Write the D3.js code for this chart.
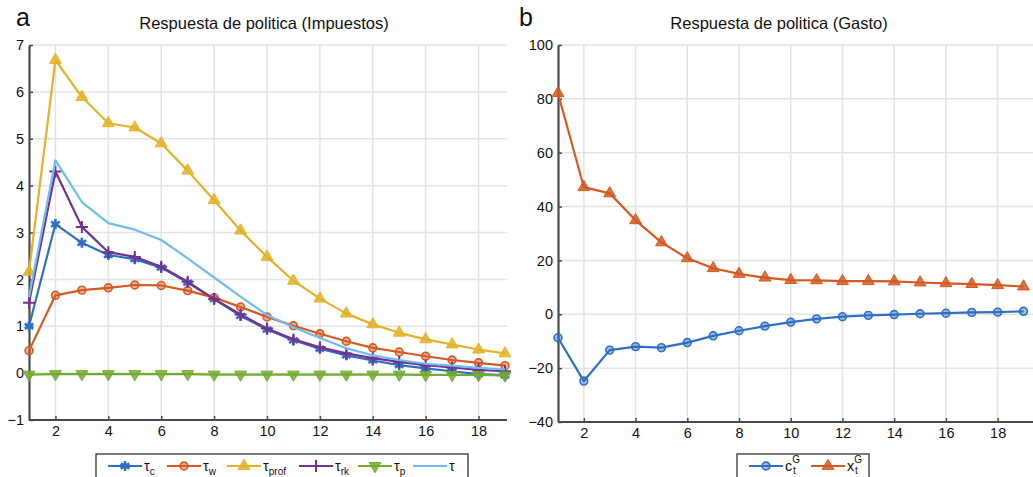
<!DOCTYPE html>
<html>
<head>
<meta charset="utf-8">
<script src="https://cdn.jsdelivr.net/npm/d3@7"></script>
<style>
  html, body { margin: 0; padding: 0; background: #fff; }
  svg { display: block; font-family: "Liberation Sans", Arial, sans-serif; }
</style>
</head>
<body>
<svg id="chart" width="1033" height="477"></svg>
<script>
// Horizon (periods)
const periods = d3.range(1, 20);

// Panel a: tax instruments
const tauC    = [1.00, 3.18, 2.78, 2.52, 2.43, 2.25, 1.93, 1.58, 1.22, 0.93, 0.70, 0.52, 0.38, 0.27, 0.17, 0.10, 0.04, -0.02, -0.05];
const tauW    = [0.48, 1.66, 1.77, 1.82, 1.88, 1.87, 1.76, 1.61, 1.41, 1.20, 1.01, 0.84, 0.68, 0.54, 0.45, 0.36, 0.28, 0.22, 0.16];
const tauProf = [2.16, 6.68, 5.89, 5.33, 5.24, 4.90, 4.32, 3.69, 3.04, 2.48, 1.97, 1.59, 1.27, 1.04, 0.86, 0.72, 0.61, 0.50, 0.42];
const tauRk   = [1.50, 4.30, 3.12, 2.58, 2.48, 2.27, 1.95, 1.58, 1.25, 0.95, 0.72, 0.55, 0.42, 0.32, 0.24, 0.17, 0.12, 0.07, 0.04];
const tauP    = [-0.03, -0.02, -0.02, -0.02, -0.02, -0.02, -0.02, -0.03, -0.03, -0.03, -0.03, -0.03, -0.03, -0.03, -0.03, -0.04, -0.04, -0.04, -0.05];
const tauAll  = [1.62, 4.54, 3.65, 3.20, 3.06, 2.84, 2.45, 2.04, 1.63, 1.24, 0.98, 0.75, 0.53, 0.38, 0.28, 0.20, 0.16, 0.11, 0.08];

// Panel b: spending instruments
const cG = [-8.7, -24.8, -13.3, -12.0, -12.4, -10.5, -8.0, -6.1, -4.4, -2.9, -1.7, -0.9, -0.4, -0.1, 0.2, 0.4, 0.7, 0.8, 1.1];
const xG = [82.1, 47.2, 44.9, 34.9, 26.7, 20.8, 17.1, 15.0, 13.6, 12.7, 12.6, 12.3, 12.3, 12.2, 11.8, 11.5, 11.2, 10.8, 10.3];

// Tick labels
const xTicks = [2, 4, 6, 8, 10, 12, 14, 16, 18];
const yTicksA = [-1, 0, 1, 2, 3, 4, 5, 6, 7];
const yTicksB = [-40, -20, 0, 20, 40, 60, 80, 100];

const titles = ["Respuesta de politica (Impuestos)", "Respuesta de politica (Gasto)"];

const C = {
  blue: "#2f6fc4", orange: "#d45a22", yellow: "#e3b228",
  purple: "#74318e", green: "#74ab2f", sky: "#6fbdf0"
};

const svg = d3.select("#chart");

// Downward-pointing triangle symbol
const triDown = {
  draw(ctx, size) {
    const h = Math.sqrt(size / (Math.sqrt(3) / 4));
    const y = h * Math.sqrt(3) / 2;
    ctx.moveTo(-h / 2, -y / 3);
    ctx.lineTo(h / 2, -y / 3);
    ctx.lineTo(0, 2 * y / 3);
    ctx.closePath();
  }
};

function markerPath(kind) {
  switch (kind) {
    case "asterisk": return d3.symbol(d3.symbolAsterisk, 70)();
    case "circle": return d3.symbol(d3.symbolCircle, 48)();
    case "triUp": return d3.symbol(d3.symbolTriangle, 60)();
    case "triDown": return d3.symbol(triDown, 60)();
    case "plus": return "M-6,0H6M0,-6V6";
    default: return null;
  }
}

function drawMarker(g, kind, color, x, y) {
  if (!kind) return;
  const p = g.append("path").attr("d", markerPath(kind)).attr("transform", `translate(${x},${y})`);
  if (kind === "asterisk" || kind === "plus") {
    p.attr("fill", "none").attr("stroke", color).attr("stroke-width", kind === "plus" ? 2 : 2.6);
  } else if (kind === "circle") {
    p.attr("fill", color).attr("fill-opacity", 0.45).attr("stroke", color).attr("stroke-width", 1.6);
  } else {
    p.attr("fill", color).attr("fill-opacity", 0.85).attr("stroke", color).attr("stroke-width", 1);
  }
}

function panel(opts) {
  const { x0, x1, xEnd, y0, y1, yDomain, yTicks, series, title, letter, letterX, titleX } = opts;
  const x = d3.scaleLinear().domain([1, 19]).range([x0, x1]);
  const y = d3.scaleLinear().domain(yDomain).range([y1, y0]);
  const g = svg.append("g");

  // grid
  g.append("g").selectAll("line").data(xTicks).join("line")
    .attr("x1", d => x(d)).attr("x2", d => x(d)).attr("y1", y0).attr("y2", y1)
    .attr("stroke", "#e3e3e3").attr("stroke-width", 1.5);
  g.append("g").selectAll("line").data(yTicks).join("line")
    .attr("x1", x0).attr("x2", xEnd).attr("y1", d => y(d)).attr("y2", d => y(d))
    .attr("stroke", "#e3e3e3").attr("stroke-width", 1.5);

  // axes with inward ticks
  const xAxis = d3.axisBottom(x).tickValues(xTicks).tickSize(-4).tickPadding(6).tickSizeOuter(0);
  const gx = g.append("g").attr("transform", `translate(0,${y1})`).call(xAxis);
  gx.select(".domain").attr("d", `M${x0},0H${xEnd}`);
  const yAxis = d3.axisLeft(y).tickValues(yTicks).tickSize(-4).tickPadding(5).tickSizeOuter(0)
    .tickFormat(d => d < 0 ? "\u2212" + Math.abs(d) : d);
  const gy = g.append("g").attr("transform", `translate(${x0},0)`).call(yAxis);
  [gx, gy].forEach(a => {
    a.select(".domain").attr("stroke", "#4a4a4a").attr("stroke-width", 2.2);
    a.selectAll(".tick line").attr("stroke", "#4a4a4a").attr("stroke-width", 1.5);
    a.selectAll(".tick text").attr("fill", "#111").attr("font-size", 14.5)
      .attr("font-family", "'Liberation Sans', Arial, sans-serif");
  });

  // series
  series.forEach(s => {
    const pts = periods.map((p, i) => [x(p), y(s.values[i])]);
    g.append("path").attr("d", d3.line()(pts)).attr("fill", "none")
      .attr("stroke", s.color).attr("stroke-width", 2.2).attr("stroke-linejoin", "round");
    pts.forEach(([px, py]) => drawMarker(g, s.marker, s.color, px, py));
  });

  svg.append("text").attr("x", titleX).attr("y", 29).attr("text-anchor", "middle")
    .attr("font-size", 16.5).attr("fill", "#111").text(title);
  svg.append("text").attr("x", letterX).attr("y", 26).attr("font-size", 25).attr("fill", "#111").text(letter);
}

panel({
  x0: 29, x1: 505, xEnd: 507, y0: 45, y1: 420, yDomain: [-1, 7], yTicks: yTicksA,
  title: titles[0], titleX: 264, letter: "a", letterX: 16,
  series: [
    { values: tauC, color: C.blue, marker: "asterisk" },
    { values: tauW, color: C.orange, marker: "circle" },
    { values: tauProf, color: C.yellow, marker: "triUp" },
    { values: tauRk, color: C.purple, marker: "plus" },
    { values: tauP, color: C.green, marker: "triDown" },
    { values: tauAll, color: C.sky, marker: null }
  ]
});

panel({
  x0: 558, x1: 1023.5, xEnd: 1040, y0: 45, y1: 422, yDomain: [-40, 100], yTicks: yTicksB,
  title: titles[1], titleX: 779, letter: "b", letterX: 519,
  series: [
    { values: cG, color: C.blue, marker: "circle" },
    { values: xG, color: C.orange, marker: "triUp" }
  ]
});

// Legends
function legend(x, w, items) {
  const g = svg.append("g");
  g.append("rect").attr("x", x).attr("y", 454).attr("width", w).attr("height", 40)
    .attr("fill", "#fff").attr("stroke", "#333").attr("stroke-width", 1.3);
  let cx = x + 12;
  items.forEach(it => {
    g.append("line").attr("x1", cx).attr("x2", cx + 34).attr("y1", 466).attr("y2", 466)
      .attr("stroke", it.color).attr("stroke-width", 2.2);
    drawMarker(g, it.marker, it.color, cx + 17, 466);
    const t = g.append("text").attr("x", cx + 36).attr("y", 471).attr("font-size", 14.5).attr("fill", "#111");
    t.append("tspan").text(it.base);
    if (it.sup) {
      t.append("tspan").attr("font-size", 10).attr("dy", -8).text(it.sup);
      t.append("tspan").attr("font-size", 10).attr("dx", -7).attr("dy", 11).text(it.sub);
    } else if (it.sub) {
      t.append("tspan").attr("font-size", 10).attr("dy", 4).text(it.sub);
    }
    cx += it.step;
  });
}

legend(96, 372, [
  { base: "\u03c4", sub: "c", color: C.blue, marker: "asterisk", step: 59 },
  { base: "\u03c4", sub: "w", color: C.orange, marker: "circle", step: 60 },
  { base: "\u03c4", sub: "prof", color: C.yellow, marker: "triUp", step: 72 },
  { base: "\u03c4", sub: "rk", color: C.purple, marker: "plus", step: 59 },
  { base: "\u03c4", sub: "p", color: C.green, marker: "triDown", step: 55 },
  { base: "\u03c4", sub: "", color: C.sky, marker: null, step: 55 }
]);

legend(737, 132, [
  { base: "c", sup: "G", sub: "t", color: C.blue, marker: "circle", step: 62 },
  { base: "x", sup: "G", sub: "t", color: C.orange, marker: "triUp", step: 62 }
]);
</script>
</body>
</html>
